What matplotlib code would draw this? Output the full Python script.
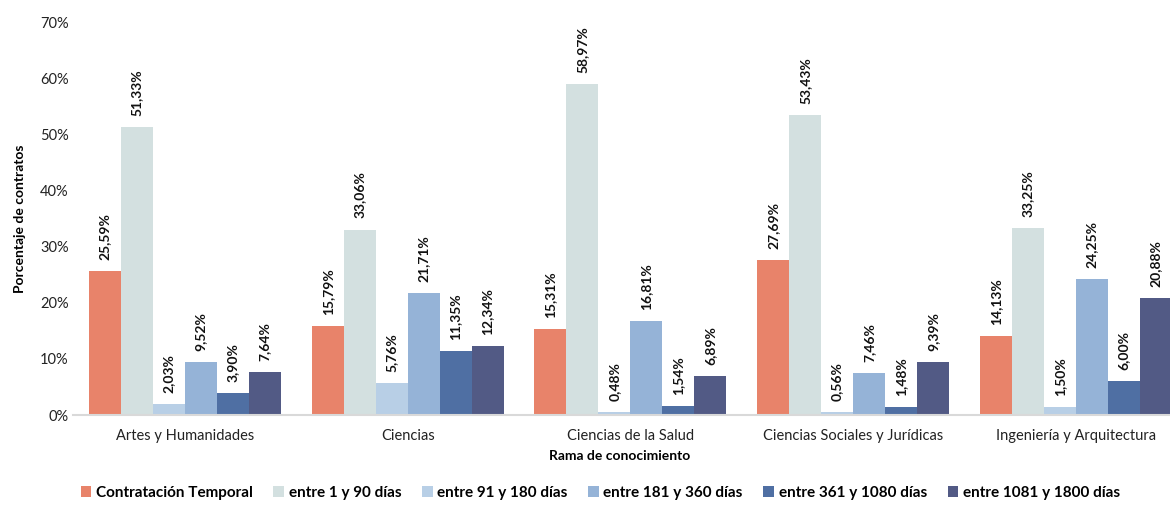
import matplotlib.pyplot as plt
import numpy as np

plt.rcParams['font.family'] = ['Lato', 'DejaVu Sans']

categories = ['Artes y Humanidades', 'Ciencias', 'Ciencias de la Salud',
              'Ciencias Sociales y Jurídicas', 'Ingeniería y Arquitectura']
series_names = ['Contratación Temporal', 'entre 1 y 90 días', 'entre 91 y 180 días',
                'entre 181 y 360 días', 'entre 361 y 1080 días', 'entre 1081 y 1800 días']
temporal = [25.59, 15.79, 15.31, 27.69, 14.13]
d1_90 = [51.33, 33.06, 58.97, 53.43, 33.25]
d91_180 = [2.03, 5.76, 0.48, 0.56, 1.50]
d181_360 = [9.52, 21.71, 16.81, 7.46, 24.25]
d361_1080 = [3.90, 11.35, 1.54, 1.48, 6.00]
d1081_1800 = [7.64, 12.34, 6.89, 9.39, 20.88]
series = [temporal, d1_90, d91_180, d181_360, d361_1080, d1081_1800]
colors = ['#E8836A', '#D3E0E0', '#B8CFE6', '#95B3D7', '#4F6FA3', '#525A85']

fig = plt.figure(figsize=(11.7, 5.05), dpi=100)
ax = fig.add_axes([0.0628, 0.178, 0.952, 0.778])

x = np.arange(len(categories))
w = 0.1435
for i, (vals, c, name) in enumerate(zip(series, colors, series_names)):
    pos = x + (i - 2.5) * w
    ax.bar(pos, vals, width=w, color=c, label=name, zorder=2)
    for p, v in zip(pos, vals):
        ax.annotate(f'{v:.2f}%'.replace('.', ','), (p, v), xytext=(0, 8),
                    textcoords='offset points', rotation=90, ha='center', va='bottom',
                    fontsize=10, fontweight='bold', color='#111111',
                    bbox=dict(facecolor='white', edgecolor='none', pad=1), zorder=3)

ax.set_xlim(-0.5, 4.5)
ax.set_ylim(0, 70)
ax.set_yticks(np.arange(0, 71, 10))
ax.set_yticklabels([f'{t}%' for t in range(0, 71, 10)])
ax.set_xticks(x)
ax.set_xticklabels(categories)
ax.tick_params(axis='both', length=0, labelsize=10.5, colors='#222222')
ax.tick_params(axis='x', pad=10)
for s in ['top', 'right', 'left']:
    ax.spines[s].set_visible(False)
ax.spines['bottom'].set_color('#D9D9D9')
ax.spines['bottom'].set_linewidth(1.5)

ax.set_ylabel('Porcentaje de contratos', fontsize=10, fontweight='bold')
ax.yaxis.set_label_coords(-0.043, 0.5)
ax.set_xlabel('Rama de conocimiento', fontsize=10, fontweight='bold')
ax.xaxis.set_label_coords(0.49, -0.09)

fig.legend(loc='center', bbox_to_anchor=(0.513, 0.024), ncol=6, frameon=False,
           prop={'size': 11, 'weight': 'bold'}, handlelength=0.7, handleheight=0.7,
           handletextpad=0.3, columnspacing=1.35)

fig.savefig('out.png', dpi=100)
